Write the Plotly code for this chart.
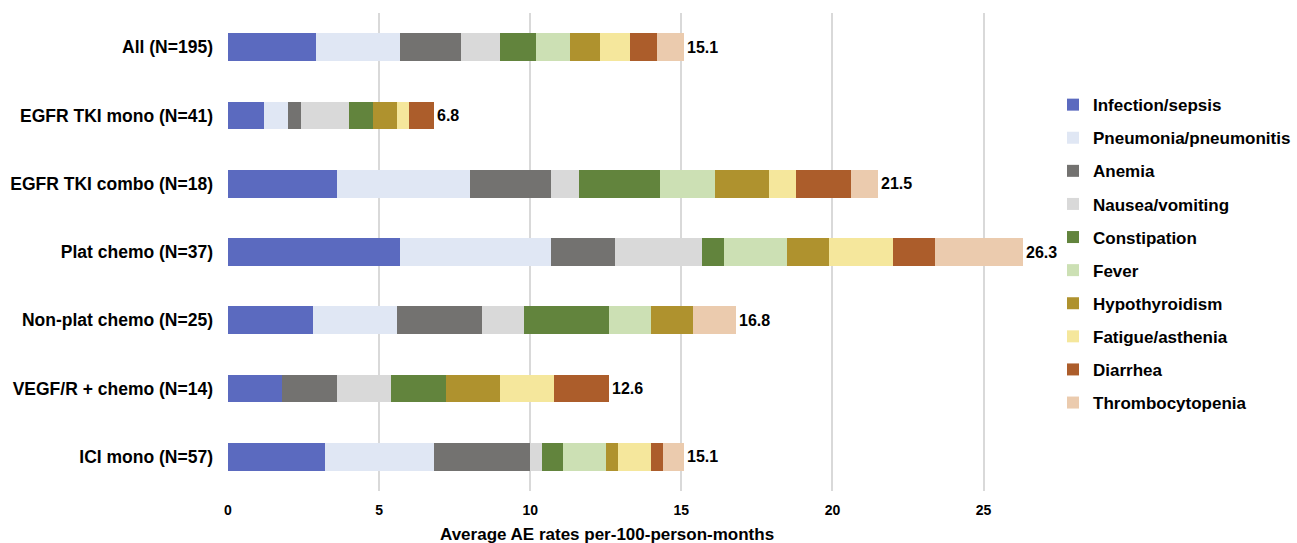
import plotly.graph_objects as go

# Treatment groups (top to bottom)
groups = ["All (N=195)", "EGFR TKI mono (N=41)", "EGFR TKI combo (N=18)",
          "Plat chemo (N=37)", "Non-plat chemo (N=25)", "VEGF/R + chemo (N=14)",
          "ICI mono (N=57)"]

# Adverse-event categories, in stacking order
ae_types = ["Infection/sepsis", "Pneumonia/pneumonitis", "Anemia", "Nausea/vomiting",
            "Constipation", "Fever", "Hypothyroidism", "Fatigue/asthenia",
            "Diarrhea", "Thrombocytopenia"]

# Rates per 100 person-months, one list per AE category (same order as groups)
infection_sepsis = [2.9, 1.2, 3.6, 5.7, 2.8, 1.8, 3.2]
pneumonia_pneumonitis = [2.8, 0.8, 4.4, 5.0, 2.8, 0.0, 3.6]
anemia = [2.0, 0.4, 2.7, 2.1, 2.8, 1.8, 3.2]
nausea_vomiting = [1.3, 1.6, 0.9, 2.9, 1.4, 1.8, 0.4]
constipation = [1.2, 0.8, 2.7, 0.7, 2.8, 1.8, 0.7]
fever = [1.1, 0.0, 1.8, 2.1, 1.4, 0.0, 1.4]
hypothyroidism = [1.0, 0.8, 1.8, 1.4, 1.4, 1.8, 0.4]
fatigue_asthenia = [1.0, 0.4, 0.9, 2.1, 0.0, 1.8, 1.1]
diarrhea = [0.9, 0.8, 1.8, 1.4, 0.0, 1.8, 0.4]
thrombocytopenia = [0.9, 0.0, 0.9, 2.9, 1.4, 0.0, 0.7]

series = [infection_sepsis, pneumonia_pneumonitis, anemia, nausea_vomiting,
          constipation, fever, hypothyroidism, fatigue_asthenia, diarrhea,
          thrombocytopenia]

colors = ["#5B6ABF", "#E0E7F4", "#737270", "#D9D9D9", "#62843D",
          "#CCE0B4", "#AF922E", "#F5E79C", "#AC5D2B", "#EBCBAE"]

x_ticks = [0, 5, 10, 15, 20, 25]

FONT = "Liberation Sans, Arial, sans-serif"

fig = go.Figure()
for name, vals, col in zip(ae_types, series, colors):
    fig.add_trace(go.Bar(
        y=groups, x=vals, name=f"<b>{name}</b>", orientation="h",
        marker=dict(color=col, line=dict(width=0)),
        legendgroup=name,
        hoverinfo="x+name",
    ))

# Total labels at the end of each stacked bar
totals = [round(sum(s[k] for s in series), 1) for k in range(len(groups))]
for g, t in zip(groups, totals):
    fig.add_annotation(x=t, y=g, text=f"<b>{t:.1f}</b>", showarrow=False,
                       xanchor="left", xshift=1,
                       font=dict(family=FONT, size=16, color="#000000"))

# Axis title
fig.add_annotation(x=0.4645, y=0, xref="paper", yref="paper", yshift=-43,
                   text="<b>Average AE rates per-100-person-months</b>",
                   showarrow=False, xanchor="center", yanchor="middle",
                   font=dict(family=FONT, size=17, color="#000000"))

fig.update_layout(
    width=1297, height=543,
    margin=dict(l=228, r=253, t=13, b=52, autoexpand=False),
    barmode="stack", bargap=0.595,
    plot_bgcolor="white", paper_bgcolor="white",
    font=dict(family=FONT, color="#000000"),
    xaxis=dict(range=[0, 27], tickvals=x_ticks,
               ticktext=[f"<b>{v}</b>" for v in x_ticks],
               showgrid=True, gridcolor="#D9D9D9", gridwidth=1.5,
               zeroline=False, showline=False,
               ticks="", ticklabelstandoff=9,
               tickfont=dict(family=FONT, size=14, color="#000000")),
    yaxis=dict(categoryorder="array", categoryarray=groups, autorange="reversed",
               ticktext=[f"<b>{g}</b>" for g in groups], tickvals=groups,
               showgrid=False, zeroline=False, showline=False,
               ticks="", ticklabelstandoff=14,
               tickfont=dict(family=FONT, size=17.5, color="#000000")),
    legend=dict(xref="container", x=1053 / 1297, y=0.845,
                xanchor="left", yanchor="top",
                traceorder="grouped", tracegroupgap=8,
                font=dict(family=FONT, size=17, color="#000000"),
                bgcolor="rgba(0,0,0,0)"),
    showlegend=True,
)

fig.write_html("out.html")
